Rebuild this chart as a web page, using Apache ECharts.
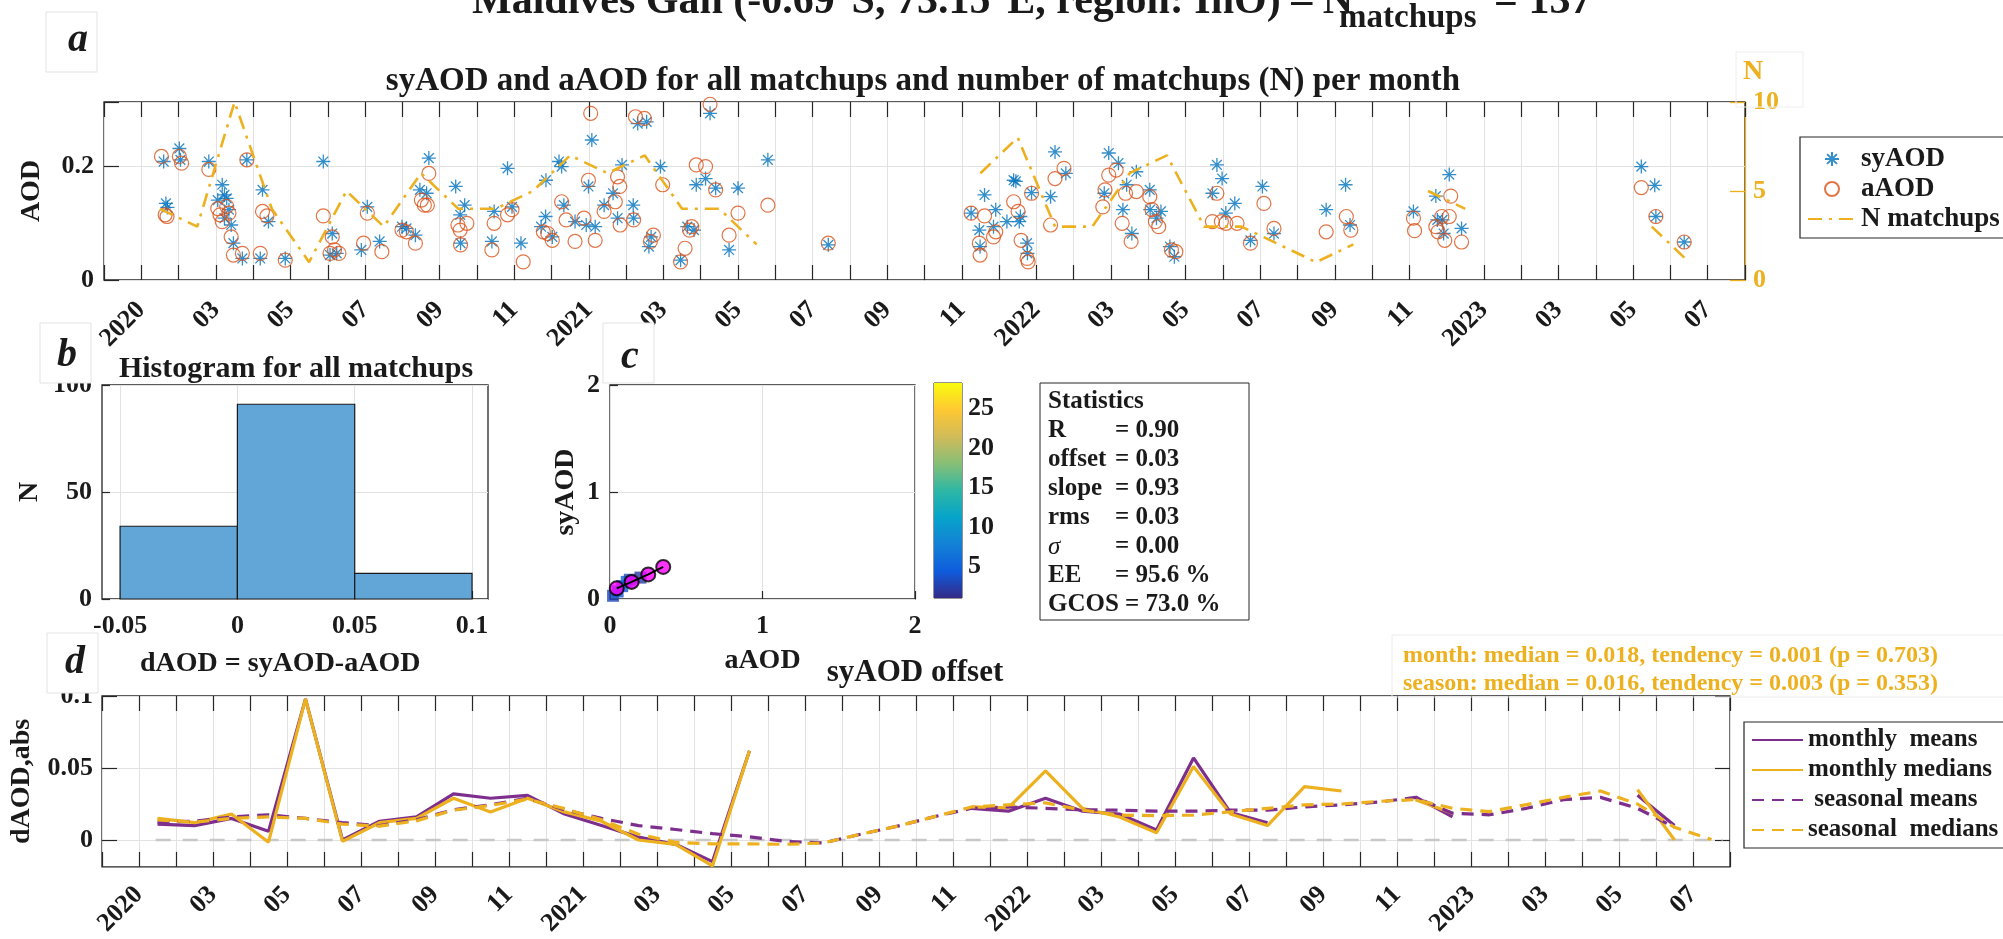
<!DOCTYPE html>
<html>
<head>
<meta charset="utf-8">
<title>Maldives Gan matchups</title>
<script src="https://cdn.jsdelivr.net/npm/echarts@6.0.0/dist/echarts.min.js"></script>
<style>
  html, body { margin: 0; padding: 0; background: #fff; }
  #chart { width: 2003px; height: 939px; }
</style>
</head>
<body>
<div id="chart"></div>
<script>
const FONT = 'Liberation Serif';
const INK = '#262626';
const TXT = '#1a1a1a';
const GRID = '#e2e2e2';
const BLUE = '#0072BD';
const ORANGE = '#D95319';
const YELLOW = '#EDB120';
const PURPLE = '#7E2F8E';
const NONE = 'rgba(0,0,0,0)';

// x positions are months counted from 2020-01-01 (0 = Jan 2020, 12 = Jan 2021, ...)
const syAODPts = [
  [0.60,0.209],[0.66,0.135],[0.70,0.128],[1.02,0.232],[1.05,0.212],[1.81,0.209],
  [2.05,0.141],[2.17,0.168],[2.23,0.150],[2.29,0.144],[2.23,0.109],[2.35,0.124],[2.41,0.097],[2.47,0.065],[2.71,0.038],[2.83,0.212],
  [3.25,0.159],[3.41,0.103],[3.19,0.038],[3.86,0.038],[4.88,0.209],
  [5.12,0.082],[5.06,0.044],[5.24,0.047],[5.90,0.053],[6.06,0.129],[6.39,0.068],[6.99,0.094],
  [7.11,0.091],[7.35,0.079],[7.47,0.159],[7.65,0.153],[7.71,0.215],
  [8.43,0.165],[8.55,0.115],[8.56,0.065],[8.67,0.132],[9.40,0.068],[9.46,0.121],[9.82,0.197],[9.94,0.129],
  [10.18,0.065],[10.72,0.094],[10.84,0.112],[10.85,0.176],
  [11.02,0.076],[11.20,0.209],[11.27,0.200],[11.33,0.132],[11.63,0.103],[11.93,0.097],[11.99,0.165],
  [12.08,0.247],[12.17,0.094],[12.41,0.132],[12.65,0.153],[12.89,0.203],[12.77,0.109],
  [13.19,0.132],[13.20,0.109],[13.31,0.276],[13.55,0.279],[13.61,0.059],[13.67,0.076],[13.92,0.200],
  [14.46,0.035],[14.64,0.094],[14.82,0.088],[14.88,0.168],
  [15.13,0.179],[15.25,0.294],[15.40,0.162],[15.76,0.053],[16.00,0.162],[16.80,0.212],[18.42,0.062],
  [22.25,0.118],[22.47,0.088],[22.49,0.059],[22.61,0.150],[22.85,0.094],[22.91,0.124],
  [23.21,0.103],[23.39,0.176],[23.45,0.174],[23.54,0.103],[23.57,0.112],[23.75,0.065],[23.76,0.047],[23.87,0.154],
  [24.38,0.147],[24.50,0.226],[24.79,0.188],[25.82,0.153],[25.94,0.224],
  [26.20,0.206],[26.32,0.124],[26.42,0.168],[26.56,0.082],[26.68,0.191],
  [27.04,0.159],[27.05,0.124],[27.22,0.109],[27.34,0.121],[27.58,0.059],[27.70,0.041],
  [28.72,0.153],[28.84,0.203],[28.98,0.179],[29.08,0.118],[29.32,0.135],[29.74,0.070],
  [30.06,0.165],[30.37,0.082],[31.77,0.124],[32.29,0.168],[32.41,0.097],
  [34.11,0.121],[34.71,0.148],[34.75,0.106],[34.89,0.106],[34.92,0.082],[35.07,0.186],[35.40,0.091],
  [40.22,0.200],[40.58,0.167],[40.61,0.112],[41.37,0.067]
];
const aAODPts = [
  [0.54,0.218],[0.64,0.115],[0.69,0.112],[1.02,0.218],[1.08,0.206],[1.81,0.195],
  [2.05,0.126],[2.11,0.115],[2.17,0.103],[2.29,0.130],[2.35,0.118],[2.41,0.076],[2.47,0.044],[2.71,0.047],[2.83,0.212],
  [3.25,0.121],[3.37,0.113],[3.19,0.047],[3.86,0.035],[4.88,0.113],
  [5.12,0.076],[5.06,0.047],[5.18,0.053],[5.30,0.047],[5.96,0.065],[6.06,0.118],[6.45,0.050],[6.99,0.088],
  [7.11,0.085],[7.35,0.065],[7.51,0.141],[7.59,0.132],[7.67,0.132],[7.71,0.188],
  [8.49,0.097],[8.55,0.088],[8.56,0.062],[8.73,0.100],[9.40,0.053],[9.46,0.100],[9.82,0.115],[9.94,0.124],
  [10.24,0.032],[10.78,0.085],[10.90,0.082],
  [11.02,0.070],[11.27,0.138],[11.39,0.106],[11.63,0.068],[11.87,0.109],[11.99,0.176],
  [12.05,0.294],[12.17,0.070],[12.41,0.121],[12.71,0.138],[12.77,0.182],[12.83,0.165],[12.84,0.097],
  [13.20,0.106],[13.25,0.288],[13.49,0.285],[13.65,0.068],[13.73,0.079],[13.98,0.168],
  [14.46,0.032],[14.58,0.056],[14.70,0.088],[14.76,0.094],[14.88,0.203],
  [15.13,0.200],[15.25,0.310],[15.40,0.159],[15.76,0.079],[16.00,0.118],[16.80,0.132],[18.42,0.065],
  [22.25,0.118],[22.47,0.065],[22.49,0.044],[22.61,0.113],[22.85,0.076],[22.91,0.085],
  [23.39,0.138],[23.51,0.121],[23.59,0.070],[23.75,0.038],[23.78,0.032],[23.87,0.153],
  [24.38,0.097],[24.50,0.179],[24.74,0.197],[25.78,0.129],[25.84,0.159],[25.94,0.185],
  [26.14,0.194],[26.30,0.100],[26.39,0.153],[26.54,0.068],[26.68,0.156],
  [27.04,0.147],[27.10,0.124],[27.19,0.103],[27.28,0.094],[27.62,0.053],[27.74,0.050],
  [28.72,0.103],[28.84,0.153],[28.96,0.103],[29.08,0.100],[29.38,0.100],[29.74,0.065],
  [30.10,0.135],[30.37,0.091],[31.77,0.085],[32.31,0.112],[32.43,0.088],
  [34.11,0.109],[34.14,0.087],[34.71,0.094],[34.77,0.085],[34.87,0.112],[34.95,0.070],[35.07,0.112],[35.11,0.148],[35.40,0.067],
  [40.22,0.163],[40.61,0.112],[41.37,0.067]
];
// matchups per month, Jan 2020 .. Jun 2023
const nMatchups = [4,3,10,4,1,5,3,6,4,4,5,7, 6,7,4,4,2,null,1,null,null,null,6,8,
  3,3,6,7,3,3,2,1,2,null,5,4, null,null,null,null,3,1];

// panel d, Jan 2020 .. Jul 2023
const monthlyMeans = [0.011,0.010,0.015,0.006,0.098,0.000,0.013,0.016,0.032,0.029,0.031,0.018,
  0.010,0.002,-0.003,-0.015,0.062,null,null,null,null,null,0.022,0.020,
  0.029,0.020,0.018,0.007,0.057,0.019,0.012,null,null,null,0.030,0.016,
  null,null,null,null,0.031,0.010,null];
const monthlyMedians = [0.015,0.012,0.018,-0.0015,0.098,-0.001,0.012,0.015,0.029,0.0195,0.029,0.0195,
  0.013,0.000,-0.003,-0.018,0.062,null,null,null,null,null,0.023,0.0224,
  0.048,0.022,0.016,0.005,0.051,0.018,0.010,0.037,0.034,null,0.028,0.0186,
  null,null,null,null,0.035,0.000,null];
const seasonalMeans = [0.0124,0.013,0.016,0.0175,0.015,0.012,0.010,0.014,0.021,0.0245,0.029,0.021,
  0.015,0.010,0.0073,0.0044,0.0022,-0.001,-0.002,0.004,0.0096,0.0162,0.022,0.023,
  0.022,0.021,0.0207,0.020,0.020,0.0207,0.0207,0.023,0.0244,0.0263,0.0296,0.0186,
  0.0175,0.022,0.028,0.0296,0.022,0.0088,null];
const seasonalMedians = [0.014,0.0124,0.015,0.016,0.015,0.011,0.0096,0.0133,0.0207,0.024,0.0284,0.0218,
  0.014,0.004,-0.0016,-0.0027,-0.0027,-0.003,-0.002,0.004,0.0096,0.0162,0.0229,0.0244,
  0.0258,0.0207,0.0173,0.0169,0.0173,0.0196,0.022,0.0244,0.025,0.0268,0.028,0.022,
  0.0197,0.0246,0.0296,0.034,0.025,0.0088,0.0004];
const zeroSpan = [0.45, 42.8];

// panel b
const histEdges = [-0.05, 0, 0.05, 0.1];
const histCounts = [34, 91, 12];
const histTicks = [-0.05, 0, 0.05, 0.1];

// panel c
const binAAOD = [0.044, 0.142, 0.251, 0.349];
const binSyAOD = [0.10, 0.16, 0.23, 0.30];
const densityCells = [[0.02,0.03,3],[0.05,0.07,4],[0.08,0.12,4],[0.11,0.16,5],[0.13,0.18,3],[0.2,0.2,2]];
const cbRange = [1, 28.2];
const cbTicks = [5, 10, 15, 20, 25];
const parula = ['#352A87','#0F5CDD','#1481D6','#06A4CA','#2EB7A4','#87BF77','#D1BB59','#FEC832','#F9FB0E'];

const statNames = ['R', 'offset', 'slope', 'rms', 'σ', 'EE'];
const statValues = ['= 0.90', '= 0.03', '= 0.93', '= 0.03', '= 0.00', '= 95.6 %'];
const statGcos = 'GCOS = 73.0 %';
const monthStats = 'month: median = 0.018, tendency = 0.001 (p = 0.703)';
const seasonStats = 'season: median = 0.016, tendency = 0.003 (p = 0.353)';

const ASTERISK = 'path://M5,0L5,10M0,5L10,5M1.5,1.5L8.5,8.5M8.5,1.5L1.5,8.5';

function monthLabel(v) {
  if (v !== Math.round(v)) return '';
  const mon = ((v % 12) + 12) % 12;
  if (mon === 0) return String(2020 + Math.floor(v / 12));
  return mon % 2 === 0 ? String(mon + 1).padStart(2, '0') : '';
}

function bold(size, color) {
  return { fontFamily: FONT, fontWeight: 'bold', fontSize: size, color: color || TXT };
}

const tickStyle = { color: INK, width: 1.2 };
const noLine = { show: false, onZero: false };

function timeAxis(gridIndex, pos, margin) {
  const top = pos === 'top';
  return {
    type: 'value', gridIndex, position: pos, min: -1, max: 43, interval: 1,
    axisLine: noLine,
    axisTick: { inside: true, length: 15, lineStyle: tickStyle },
    axisLabel: top ? { show: false } : Object.assign(bold(26), { rotate: 45, margin, formatter: monthLabel }),
    splitLine: { show: !top, lineStyle: { color: GRID } }
  };
}

const byMonth = arr => arr.map((v, i) => [i + 0.5, v]);

function dLine(name, data, color, dashed) {
  return {
    name, type: 'line', xAxisIndex: 5, yAxisIndex: 5, data: byMonth(data),
    symbol: 'none', connectNulls: false,
    lineStyle: { color, width: 3.2, type: dashed ? [12, 8] : 'solid' },
    itemStyle: { color: NONE, borderWidth: 0 }
  };
}

const graphics = [];
function addText(text, x, y, size, extra) {
  graphics.push({
    type: 'text', x, y, z: 100,
    style: Object.assign({
      text, fontFamily: FONT, fontWeight: 'bold', fontSize: size, fill: TXT,
      align: 'left', verticalAlign: 'middle'
    }, extra || {})
  });
}
function addBox(x, y, w, h, stroke, fill, z) {
  graphics.push({
    type: 'rect', z: z || 95, shape: { x, y, width: w, height: h },
    style: { fill: fill || '#fff', stroke, lineWidth: 1 }
  });
}

// title, mostly cut off at the top edge
addText('Maldives Gan (-0.69°S, 73.15°E, region: InO) – N', 472, 2, 42);
addText('matchups', 1339, 18, 33);
addText('= 137', 1494, 2, 42);

// panel letters
[['a', 46, 12, 78, 41], ['b', 40, 323, 67, 356], ['c', 603, 323, 630, 358], ['d', 47, 633, 75, 663]].forEach(p => {
  addBox(p[1], p[2], 51, 60, '#e3e3e3');
  addText(p[0], p[3], p[4], 40, { fontStyle: 'italic', align: 'center' });
});
addBox(1736, 52, 67, 55, '#eeeeee', NONE, 1);

addText('syAOD and aAOD for all matchups and number of matchups (N) per month', 923, 81, 33, { align: 'center' });
addText('Histogram for all matchups', 296, 369, 30, { align: 'center' });
addText('dAOD = syAOD-aAOD', 140, 664, 28);
addText('syAOD offset', 915, 673, 31, { align: 'center' });

addBox(1392, 635, 640, 62, '#ececec', NONE, 1);
addText(monthStats, 1403, 656, 24, { fill: YELLOW });
addText(seasonStats, 1403, 684, 24, { fill: YELLOW });

// statistics box
addBox(1040, 383, 209, 237, INK);
addText('Statistics', 1048, 402, 25);
statNames.forEach((n, i) => {
  const y = 431 + i * 29;
  addText(n, 1048, y, 25, n === 'σ' ? { fontStyle: 'italic', fontWeight: 'normal' } : {});
  addText(statValues[i], 1115, y, 25);
});
addText(statGcos, 1048, 605, 25);

const option = {
  animation: false,
  backgroundColor: '#fff',
  grid: [
    { left: 104, top: 102, width: 1641, height: 178, show: true, borderColor: INK, borderWidth: 1.3 },
    { left: 102, top: 385, width: 386, height: 214, show: true, borderColor: INK, borderWidth: 1.3 },
    { left: 610, top: 385, width: 305, height: 214, show: true, borderColor: INK, borderWidth: 1.3 },
    { left: 934, top: 383, width: 28, height: 215, show: true, borderColor: INK, borderWidth: 1 },
    { left: 102, top: 696, width: 1628, height: 178, show: true, borderColor: INK, borderWidth: 1.3 }
  ],
  xAxis: [
    timeAxis(0, 'bottom', 26),
    timeAxis(0, 'top'),
    {
      type: 'value', gridIndex: 1, min: -0.0577, max: 0.1068,
      axisLine: noLine,
      axisTick: { inside: true, length: 8, customValues: histTicks, lineStyle: tickStyle },
      axisLabel: Object.assign(bold(26), { margin: 14, customValues: histTicks }),
      splitLine: { lineStyle: { color: GRID } }
    },
    {
      type: 'value', gridIndex: 2, min: 0, max: 2, interval: 1,
      name: 'aAOD', nameLocation: 'middle', nameGap: 48, nameTextStyle: bold(28),
      axisLine: noLine,
      axisTick: { inside: true, length: 8, lineStyle: tickStyle },
      axisLabel: Object.assign(bold(26), { margin: 14 }),
      splitLine: { lineStyle: { color: GRID } }
    },
    { type: 'value', gridIndex: 3, min: 0, max: 1, show: false },
    timeAxis(4, 'bottom', 24),
    timeAxis(4, 'top')
  ],
  yAxis: [
    {
      type: 'value', gridIndex: 0, position: 'left', min: 0, max: 0.314, interval: 0.2,
      name: 'AOD', nameLocation: 'middle', nameGap: 58, nameTextStyle: bold(28),
      axisLine: noLine,
      axisTick: { inside: true, length: 15, lineStyle: tickStyle },
      axisLabel: Object.assign(bold(26), {
        margin: 10,
        formatter: v => Math.abs(v / 0.2 - Math.round(v / 0.2)) < 1e-6 ? String(v) : ''
      }),
      splitLine: { lineStyle: { color: GRID } }
    },
    {
      type: 'value', gridIndex: 0, position: 'right', min: 0, max: 10, interval: 5,
      name: 'N', nameLocation: 'end', nameGap: 16,
      nameTextStyle: Object.assign(bold(28, YELLOW), { padding: [0, 0, 0, 16] }),
      axisLine: { show: true, onZero: false, lineStyle: { color: YELLOW, width: 1.3 } },
      axisTick: { inside: true, length: 15, lineStyle: { color: YELLOW, width: 1.3 } },
      axisLabel: Object.assign(bold(26, YELLOW), { margin: 8 }),
      splitLine: { show: false }
    },
    {
      type: 'value', gridIndex: 1, min: 0, max: 100, interval: 50,
      name: 'N', nameLocation: 'middle', nameGap: 58, nameTextStyle: bold(28),
      axisLine: noLine,
      axisTick: { inside: true, length: 8, lineStyle: tickStyle },
      axisLabel: Object.assign(bold(26), { margin: 10 }),
      splitLine: { lineStyle: { color: GRID } }
    },
    {
      type: 'value', gridIndex: 2, min: 0, max: 2, interval: 1,
      name: 'syAOD', nameLocation: 'middle', nameGap: 30, nameTextStyle: bold(28),
      axisLine: noLine,
      axisTick: { inside: true, length: 8, lineStyle: tickStyle },
      axisLabel: Object.assign(bold(26), { margin: 10 }),
      splitLine: { lineStyle: { color: GRID } }
    },
    {
      type: 'value', gridIndex: 3, position: 'right', min: cbRange[0], max: cbRange[1],
      axisLine: noLine,
      axisTick: { inside: true, length: 6, customValues: cbTicks, lineStyle: tickStyle },
      axisLabel: Object.assign(bold(26), { margin: 6, customValues: cbTicks }),
      splitLine: { show: false }
    },
    {
      type: 'value', gridIndex: 4, position: 'left', min: -0.0187, max: 0.1,
      name: 'dAOD,abs', nameLocation: 'middle', nameGap: 66, nameTextStyle: bold(28),
      axisLine: noLine,
      axisTick: { inside: true, length: 15, customValues: [0, 0.05, 0.1], lineStyle: tickStyle },
      axisLabel: Object.assign(bold(26), { margin: 9, customValues: [0, 0.05, 0.1] }),
      splitLine: { lineStyle: { color: GRID } }
    },
    {
      type: 'value', gridIndex: 4, position: 'right', min: -0.0187, max: 0.1,
      axisLine: noLine,
      axisTick: { inside: true, length: 15, customValues: [0, 0.05, 0.1], lineStyle: tickStyle },
      axisLabel: { show: false },
      splitLine: { show: false }
    }
  ],
  visualMap: {
    type: 'continuous', show: false, seriesIndex: 4, dimension: 2,
    min: cbRange[0], max: cbRange[1], inRange: { color: parula }
  },
  legend: [
    {
      data: ['syAOD', 'aAOD', 'N matchups'], orient: 'vertical', left: 1800, top: 137,
      padding: [7, 80, 4, 7], itemGap: 0, itemWidth: 48, itemHeight: 14,
      borderColor: INK, borderWidth: 1.2, backgroundColor: '#fff', selectedMode: false,
      textStyle: Object.assign(bold(27), { lineHeight: 30 })
    },
    {
      data: ['monthly  means', 'monthly medians', ' seasonal means', 'seasonal  medians'],
      orient: 'vertical', left: 1744, top: 722,
      padding: [3, 80, 3, 7], itemGap: 0, itemWidth: 51, itemHeight: 14,
      borderColor: INK, borderWidth: 1.2, backgroundColor: '#fff', selectedMode: false,
      textStyle: Object.assign(bold(25), { lineHeight: 30 })
    }
  ],
  graphic: graphics,
  series: [
    {
      name: 'syAOD', type: 'scatter', xAxisIndex: 0, yAxisIndex: 0, data: syAODPts,
      symbol: ASTERISK, symbolSize: 14, symbolKeepAspect: true,
      itemStyle: { color: NONE, borderColor: BLUE, borderWidth: 1.3 }
    },
    {
      name: 'aAOD', type: 'scatter', xAxisIndex: 0, yAxisIndex: 0, data: aAODPts,
      symbol: 'circle', symbolSize: 14,
      itemStyle: { color: NONE, borderColor: ORANGE, borderWidth: 1.2 }
    },
    {
      name: 'N matchups', type: 'line', xAxisIndex: 0, yAxisIndex: 1, data: byMonth(nMatchups),
      symbol: 'none', connectNulls: false,
      lineStyle: { color: YELLOW, width: 2.6, type: [14, 7, 3, 7] },
      itemStyle: { color: NONE, borderWidth: 0 }
    },
    {
      type: 'custom', xAxisIndex: 2, yAxisIndex: 2,
      data: histCounts.map((c, i) => [histEdges[i], histEdges[i + 1], c]),
      encode: { x: [0, 1], y: 2 },
      renderItem: (params, api) => {
        const a = api.coord([api.value(0), api.value(2)]);
        const b = api.coord([api.value(1), 0]);
        return {
          type: 'rect', shape: { x: a[0], y: a[1], width: b[0] - a[0], height: b[1] - a[1] },
          style: { fill: '#62A6D8', stroke: '#1a1a1a', lineWidth: 1.2 }
        };
      }
    },
    {
      type: 'scatter', xAxisIndex: 3, yAxisIndex: 3, data: densityCells,
      symbol: 'rect', symbolSize: 12
    },
    {
      type: 'line', xAxisIndex: 3, yAxisIndex: 3, data: binAAOD.map((x, i) => [x, binSyAOD[i]]),
      symbol: 'none', lineStyle: { color: '#000', width: 2 }
    },
    {
      type: 'scatter', xAxisIndex: 3, yAxisIndex: 3, data: binAAOD.map((x, i) => [x, binSyAOD[i]]),
      symbol: 'circle', symbolSize: 14,
      itemStyle: { color: '#FF00FF', borderColor: '#000', borderWidth: 2 }
    },
    {
      type: 'custom', xAxisIndex: 4, yAxisIndex: 4, data: [cbRange],
      renderItem: (params, api) => {
        const t = api.coord([0, api.value(1)]);
        const b = api.coord([1, api.value(0)]);
        return {
          type: 'rect', shape: { x: t[0], y: t[1], width: b[0] - t[0], height: b[1] - t[1] },
          style: {
            fill: new echarts.graphic.LinearGradient(0, 1, 0, 0,
              parula.map((c, i) => ({ offset: i / (parula.length - 1), color: c })))
          }
        };
      }
    },
    {
      type: 'line', xAxisIndex: 5, yAxisIndex: 5, data: zeroSpan.map(x => [x, 0]),
      symbol: 'none', lineStyle: { color: '#c8c8c8', width: 2.5, type: [15, 12] }
    },
    dLine('monthly  means', monthlyMeans, PURPLE, false),
    dLine('monthly medians', monthlyMedians, YELLOW, false),
    dLine(' seasonal means', seasonalMeans, PURPLE, true),
    dLine('seasonal  medians', seasonalMedians, YELLOW, true)
  ]
};

const chart = echarts.init(document.getElementById('chart'));
chart.setOption(option);
</script>
</body>
</html>
